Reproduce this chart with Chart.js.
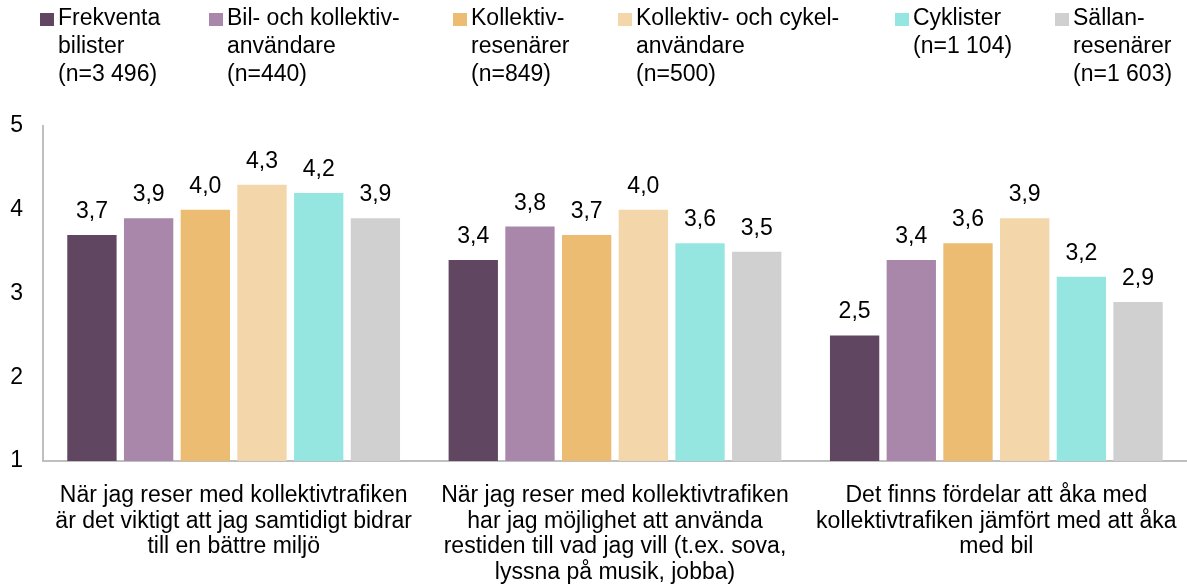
<!DOCTYPE html>
<html>
<head>
<meta charset="utf-8">
<script src="https://cdn.jsdelivr.net/npm/chart.js@4.4.1/dist/chart.umd.min.js"></script>
<style>
  html, body { margin: 0; padding: 0; background: #fff; }
  #wrap { position: relative; width: 1187px; height: 585px; }
  #legend { position: absolute; left: 0; top: 0; width: 1187px; height: 100px; font-family: 'Liberation Sans', Arial, sans-serif; font-size: 23px; color: #000; }
  .item { position: absolute; top: 3px; line-height: 28px; white-space: nowrap; }
  .box { position: absolute; left: -18px; top: 10px; width: 14px; height: 13px; }
  canvas { position: absolute; left: 0; top: 0; }
</style>
</head>
<body>
<div id="wrap">
  <canvas id="c" width="1187" height="585"></canvas>
  <div id="legend"></div>
</div>
<script>
// Statements (x-axis categories), each split into display lines
const categories = [
  ['När jag reser med kollektivtrafiken', 'är det viktigt att jag samtidigt bidrar', 'till en bättre miljö'],
  ['När jag reser med kollektivtrafiken', 'har jag möjlighet att använda', 'restiden till vad jag vill (t.ex. sova,', 'lyssna på musik, jobba)'],
  ['Det finns fördelar att åka med', 'kollektivtrafiken jämfört med att åka', 'med bil']
];

// Traveller groups (legend lines)
const seriesNames = [
  ['Frekventa', 'bilister', '(n=3 496)'],
  ['Bil- och kollektiv-', 'användare', '(n=440)'],
  ['Kollektiv-', 'resenärer', '(n=849)'],
  ['Kollektiv- och cykel-', 'användare', '(n=500)'],
  ['Cyklister', '(n=1 104)'],
  ['Sällan-', 'resenärer', '(n=1 603)']
];

// Mean agreement per group (1–5 scale)
const frekventaBilister = [3.7, 3.4, 2.5];
const bilKollektiv      = [3.9, 3.8, 3.4];
const kollektivResenar  = [4.0, 3.7, 3.6];
const kollektivCykel    = [4.3, 4.0, 3.9];
const cyklister         = [4.2, 3.6, 3.2];
const sallanResenar     = [3.9, 3.5, 2.9];

const yTicks = [1, 2, 3, 4, 5];

const seriesValues = [frekventaBilister, bilKollektiv, kollektivResenar, kollektivCykel, cyklister, sallanResenar];
const colors = ['#604660', '#A887AA', '#EBBC72', '#F3D6AA', '#95E6E1', '#D0D0D0'];
const legendX = [58, 227, 471, 636, 913, 1073];

const FONT = "'Liberation Sans', Arial, sans-serif";

// HTML legend with wrapped labels
const legendEl = document.getElementById('legend');
seriesNames.forEach((lines, i) => {
  const d = document.createElement('div');
  d.className = 'item';
  d.style.left = legendX[i] + 'px';
  const b = document.createElement('span');
  b.className = 'box';
  b.style.background = colors[i];
  d.appendChild(b);
  lines.forEach((t, k) => {
    if (k) d.appendChild(document.createElement('br'));
    d.appendChild(document.createTextNode(t));
  });
  legendEl.appendChild(d);
});

// Value labels above each bar, Swedish decimal comma
const valueLabels = {
  id: 'valueLabels',
  afterDatasetsDraw(chart) {
    const ctx = chart.ctx;
    ctx.save();
    ctx.font = '23px ' + FONT;
    ctx.fillStyle = '#000';
    ctx.textAlign = 'center';
    ctx.textBaseline = 'alphabetic';
    chart.data.datasets.forEach((ds, di) => {
      chart.getDatasetMeta(di).data.forEach((bar, j) => {
        ctx.fillText(ds.data[j].toFixed(1).replace('.', ','), bar.x, bar.y - 17);
      });
    });
    ctx.restore();
  }
};

new Chart(document.getElementById('c'), {
  type: 'bar',
  data: {
    labels: categories,
    datasets: seriesValues.map((vals, i) => ({
      label: seriesNames[i].join(' '),
      data: vals,
      backgroundColor: colors[i],
      borderWidth: 0,
      barPercentage: 0.87,
      categoryPercentage: 0.892
    }))
  },
  options: {
    responsive: false,
    animation: false,
    devicePixelRatio: 1,
    layout: { padding: { top: 126, right: 0, left: 0, bottom: 0 } },
    plugins: { legend: { display: false }, tooltip: { enabled: false } },
    scales: {
      x: {
        afterFit(s) { s.height = 124; s.paddingLeft = 0; s.paddingRight = 0; },
        grid: { display: false, drawTicks: false },
        border: { color: '#BFBFBF', width: 2 },
        ticks: {
          color: '#000',
          font: { family: FONT, size: 23, lineHeight: 25.5 / 23 },
          maxRotation: 0, minRotation: 0, autoSkip: false, padding: 22
        }
      },
      y: {
        min: 1, max: 5,
        afterFit(s) { s.width = 43; },
        afterBuildTicks(scale) { scale.ticks = yTicks.map(v => ({ value: v })); },
        grid: { display: false, drawTicks: false },
        border: { color: '#BFBFBF', width: 2 },
        ticks: {
          color: '#000',
          font: { family: FONT, size: 23 },
          padding: 20
        }
      }
    }
  },
  plugins: [valueLabels]
});
</script>
</body>
</html>
